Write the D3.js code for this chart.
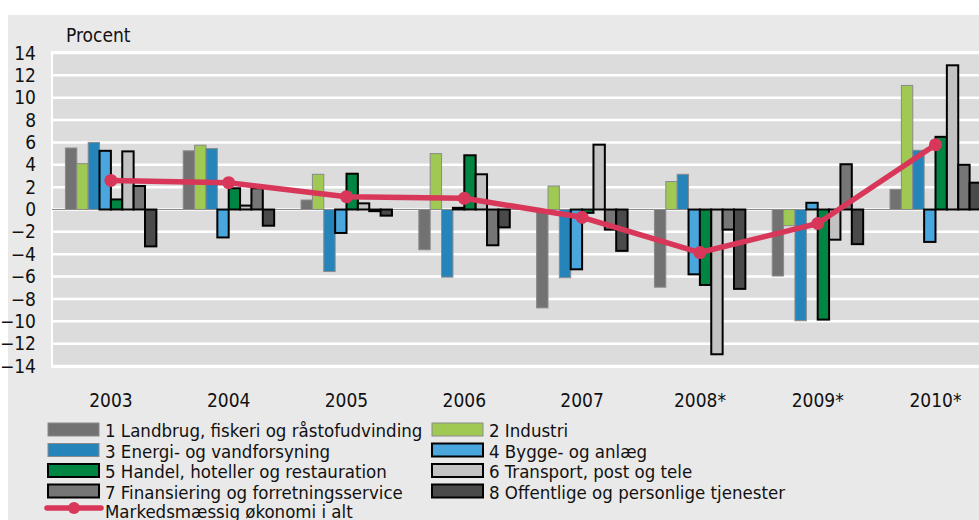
<!DOCTYPE html>
<html>
<head>
<meta charset="utf-8">
<script src="https://cdn.jsdelivr.net/npm/d3@7"></script>
<style>
  body { margin: 0; background: #fff; }
  svg text { font-family: "DejaVu Sans Condensed", "Liberation Sans Narrow", sans-serif; fill: #111; }
</style>
</head>
<body>
<svg id="chart" width="979" height="520"></svg>
<script>
const years = ["2003", "2004", "2005", "2006", "2007", "2008*", "2009*", "2010*"];
const seriesNames = [
  "1 Landbrug, fiskeri og råstofudvinding",
  "2 Industri",
  "3 Energi- og vandforsyning",
  "4 Bygge- og anlæg",
  "5 Handel, hoteller og restauration",
  "6 Transport, post og tele",
  "7 Finansiering og forretningsservice",
  "8 Offentlige og personlige tjenester"
];
const s1 = [5.5, 5.25, 0.85, -3.6, -8.8, -6.95, -5.95, 1.8];
const s2 = [4.1, 5.75, 3.15, 5.0, 2.1, 2.5, -1.45, 11.1];
const s3 = [6.0, 5.45, -5.55, -6.05, -6.1, 3.15, -9.95, 5.3];
const s4 = [5.25, -2.5, -2.1, 0.15, -5.35, -5.8, 0.6, -2.9];
const s5 = [0.9, 1.9, 3.2, 4.85, -0.3, -6.75, -9.85, 6.5];
const s6 = [5.2, 0.35, 0.55, 3.15, 5.8, -12.95, -2.7, 12.9];
const s7 = [2.1, 1.9, -0.15, -3.2, -1.8, -1.8, 4.05, 4.0];
const s8 = [-3.3, -1.45, -0.55, -1.6, -3.7, -7.1, -3.1, 2.4];
const total = [2.6, 2.4, 1.15, 1.0, -0.7, -3.85, -1.25, 5.8];
const lineName = "Markedsmæssig økonomi i alt";
const yTicks = [14, 12, 10, 8, 6, 4, 2, 0, -2, -4, -6, -8, -10, -12, -14];

const allSeries = [s1, s2, s3, s4, s5, s6, s7, s8];
const fills = ["#727272", "#9fc952", "#2584b9", "#4aa7de", "#008542", "#c2c2c2", "#767676", "#4a4a4a"];
const strokes = ["#8a8a8a", "#8a8a8a", "#8a8a8a", "#000", "#000", "#000", "#000", "#000"];
const fontFam = '"DejaVu Sans Condensed", "Liberation Sans Narrow", sans-serif';

const svg = d3.select("#chart");
// background panels
svg.append("rect").attr("x", 0).attr("y", 0).attr("width", 979).attr("height", 520).attr("fill", "#fff");
svg.append("rect").attr("x", 8).attr("y", 15).attr("width", 971).attr("height", 505).attr("fill", "#e9e9e9");

const plotLeft = 52, plotTop = 53, plotBottom = 366;
const plotRight = plotLeft + 8 * 117.8;

const y = d3.scaleLinear().domain([-14, 14]).range([plotBottom, plotTop]);
const x0 = d3.scaleBand().domain(years).range([plotLeft, plotRight]).paddingInner(0.228).paddingOuter(0.114);
const x1 = d3.scaleBand().domain(d3.range(8)).range([0, x0.bandwidth()]);

svg.append("rect").attr("x", plotLeft - 1).attr("y", plotTop - 2).attr("width", plotRight - plotLeft + 2).attr("height", plotBottom - plotTop + 4).attr("fill", "#fff");
svg.append("rect").attr("x", plotLeft + 1).attr("y", plotTop).attr("width", plotRight - plotLeft).attr("height", plotBottom - plotTop).attr("fill", "#dcdcdc");

svg.append("g").selectAll("line").data(yTicks).join("line")
  .attr("x1", plotLeft).attr("x2", plotRight)
  .attr("y1", d => y(d)).attr("y2", d => y(d))
  .attr("stroke", "#fff").attr("stroke-width", 2.5);

const yAxis = svg.append("g").attr("transform", `translate(${plotLeft},0)`)
  .call(d3.axisLeft(y).tickValues(yTicks).tickSize(0).tickPadding(16));
yAxis.select(".domain").remove();
yAxis.selectAll("text").attr("font-size", 19).attr("fill", "#111").style("font-family", fontFam);

svg.append("text").attr("x", 66).attr("y", 42).attr("font-size", 19).text("Procent");

const xAxis = svg.append("g").attr("transform", `translate(0,${plotBottom})`)
  .call(d3.axisBottom(x0).tickSize(0).tickPadding(28));
xAxis.select(".domain").remove();
xAxis.selectAll("text").attr("font-size", 19).attr("fill", "#111").style("font-family", fontFam);

// zero line
svg.append("line").attr("x1", plotLeft).attr("x2", plotRight).attr("y1", y(0)).attr("y2", y(0))
  .attr("stroke", "#8a8a8a").attr("stroke-width", 1);

const groups = svg.append("g").selectAll("g").data(years).join("g")
  .attr("transform", d => `translate(${x0(d)},0)`);
groups.selectAll("rect").data((d, i) => allSeries.map((s, k) => ({k, v: s[i]}))).join("rect")
  .attr("x", d => x1(d.k))
  .attr("width", x1.bandwidth())
  .attr("y", d => y(Math.max(0, d.v)))
  .attr("height", d => Math.abs(y(d.v) - y(0)))
  .attr("fill", d => fills[d.k])
  .attr("stroke", d => strokes[d.k])
  .attr("stroke-width", d => d.k < 3 ? 1 : 2);

const line = d3.line()
  .x((d, i) => x0(years[i]) + x0.bandwidth() / 2)
  .y(d => y(d));
svg.append("path").datum(total).attr("fill", "none").attr("stroke", "#d8375a")
  .attr("stroke-width", 5.5).attr("stroke-linejoin", "round").attr("d", line);
svg.append("g").selectAll("circle").data(total).join("circle")
  .attr("cx", (d, i) => x0(years[i]) + x0.bandwidth() / 2)
  .attr("cy", d => y(d)).attr("r", 6.5).attr("fill", "#d8375a");

// legend
const legend = svg.append("g");
const rowY = [430, 450.5, 471, 491.5];
seriesNames.forEach((name, k) => {
  const col = k % 2, row = Math.floor(k / 2);
  const lx = col === 0 ? 48 : 432;
  legend.append("rect").attr("x", lx).attr("y", rowY[row] - 7).attr("width", 51).attr("height", 13)
    .attr("fill", fills[k]).attr("stroke", strokes[k]).attr("stroke-width", k < 3 ? 1 : 2);
  legend.append("text").attr("x", lx + 57).attr("y", rowY[row] + 7).attr("font-size", 18.5).text(name);
});
legend.append("line").attr("x1", 47).attr("x2", 101).attr("y1", 508).attr("y2", 508)
  .attr("stroke", "#d8375a").attr("stroke-width", 5.5).attr("stroke-linecap", "round");
legend.append("circle").attr("cx", 74).attr("cy", 508).attr("r", 6).attr("fill", "#d8375a");
legend.append("text").attr("x", 105).attr("y", 518).attr("font-size", 18.5).text(lineName);
</script>
</body>
</html>
